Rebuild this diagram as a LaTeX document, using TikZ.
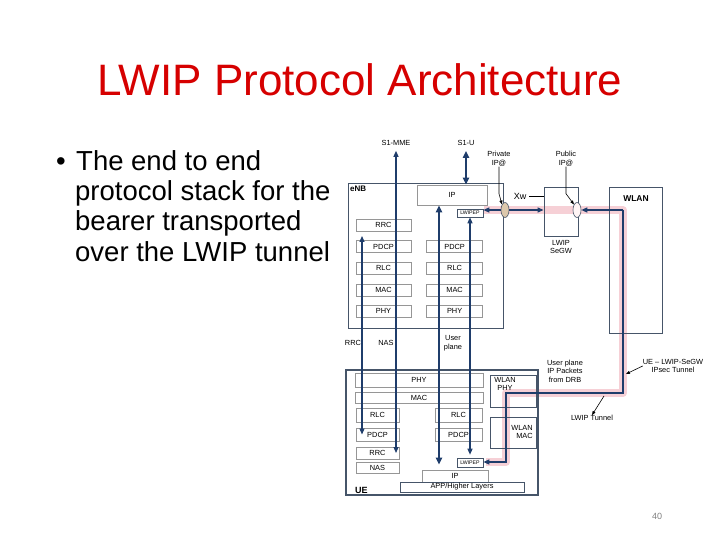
\documentclass[tikz,border=0pt]{standalone}
\usepackage{fontspec}
\setmainfont{Liberation Sans}
\usetikzlibrary{arrows.meta,positioning,shapes.geometric}

\definecolor{titlered}{RGB}{214,0,0}
\definecolor{navy}{RGB}{31,61,107}
\definecolor{tunnelpink}{RGB}{246,208,214}
\definecolor{boxgray}{RGB}{150,150,150}
\definecolor{framegray}{RGB}{70,85,105}
\definecolor{privtan}{RGB}{220,200,172}

\newcommand\diafont{\fontsize{7.4bp}{8.6bp}\selectfont}
\newcommand\bodyfont{\fontsize{27.5bp}{30bp}\selectfont}

\tikzset{
  lay/.style={draw=boxgray, line width=0.6bp, inner sep=0pt, font=\diafont},
  unitbox/.style={draw=framegray, line width=0.9bp, inner sep=0pt},
  wh/.style 2 args={minimum width=#1bp, minimum height=#2bp},
  endpt/.style={ellipse, draw=framegray, line width=0.6bp, inner sep=0pt, minimum width=8bp, minimum height=15bp},
  flow/.style={draw=navy, line width=1.2bp, {Triangle[length=6bp,width=5bp]}-{Triangle[length=6bp,width=5bp]}},
  flowthick/.style={draw=navy, line width=2.4bp, {Triangle[length=7bp,width=6bp]}-{Triangle[length=7bp,width=6bp]}},
  arr/.style={draw=navy, line width=1.2bp, -{Triangle[length=6bp,width=5bp]}},
  lead/.style={draw=black, line width=0.6bp, -{Triangle[length=4bp,width=3bp]}},
  lbl/.style={font=\diafont, inner sep=0pt, align=center},
}

\begin{document}
\begin{tikzpicture}[x=1bp,y=-1bp]
\useasboundingbox (0,0) rectangle (720,540);

% title and bullet text
\node[anchor=base, text=titlered, font=\fontsize{44bp}{50bp}\selectfont] (title) at (360,96) {LWIP Protocol Architecture};
\node[anchor=base west, inner sep=0pt, font=\bodyfont] (dot) at (56,171) {\textbullet};
\node[anchor=base west, inner sep=0pt, font=\bodyfont] (lineA) at (76,171) {The end to end};
\node[anchor=base west, inner sep=0pt, font=\bodyfont] (lineB) at (75,201) {protocol stack for the};
\node[anchor=base west, inner sep=0pt, font=\bodyfont] (lineC) at (75,231) {bearer transported};
\node[anchor=base west, inner sep=0pt, font=\bodyfont] (lineD) at (75,262) {over the LWIP tunnel};

% tunnel highlight
\coordinate (ta) at (623,210);
\coordinate (tb) at (623,393);
\coordinate (tc) at (506,393);
\coordinate (td) at (506,462);
\draw[tunnelpink, line width=8bp, line join=round] (484,210) -- (ta) -- (tb) -- (tc) -- (td) -- (486,462);

% eNB
\node[unitbox, wh={155}{145}] (enb) at (425.5,255.5) {};
\node[anchor=north west, inner sep=0pt, font=\fontsize{8bp}{9bp}\selectfont\bfseries] (enblbl) at (350,186) {eNB};
\node[lay, wh={70}{20}] (eip) at (452,195) {IP};
\node[lay, draw=framegray, wh={26}{8}, font=\fontsize{5.2bp}{6bp}\selectfont] (elwipep) at (470,213) {LWIPEP};
\node[lay, wh={55}{12}] (erc) at (383.5,225) {RRC};
\node[lay, wh={55}{12}, below=9bp of erc] (epl) {PDCP};
\node[lay, wh={55}{12}, below=9bp of epl] (erl) {RLC};
\node[lay, wh={55}{12}, below=9bp of erl] (eml) {MAC};
\node[lay, wh={55}{12}, below=9bp of eml] (ephl) {PHY};
\node[lay, wh={56}{12}, right=15bp of epl] (epr) {PDCP};
\node[lay, wh={56}{12}, below=9bp of epr] (err) {RLC};
\node[lay, wh={56}{12}, below=9bp of err] (emr) {MAC};
\node[lay, wh={56}{12}, below=9bp of emr] (ephr) {PHY};

% gateway and WLAN
\node[endpt, fill=privtan] (privip) at (505,210) {};
\node[unitbox, wh={34}{49}] (segw) at (561,211.5) {};
\node[endpt, fill=pink!15] (pubip) at (577,210) {};
\node[unitbox, wh={53}{146}] (wlan) at (635.5,260) {};
\node[lbl, font=\fontsize{8.5bp}{9bp}\selectfont\bfseries] (wlanlbl) at (636,199) {WLAN};

% UE
\node[unitbox, line width=1.2bp, wh={192}{125}] (ue) at (442,432.5) {};
\node[anchor=south west, inner sep=0pt, font=\fontsize{9bp}{10bp}\selectfont\bfseries] (uelbl) at (355,494) {UE};
\node[lay, wh={128}{14}] (uphy) at (419,380) {PHY};
\node[lay, wh={128}{11}] (umac) at (419,397.5) {MAC};
\node[lay, wh={43}{14}] (urll) at (377.5,415) {RLC};
\node[lay, wh={47}{14}] (urlr) at (458.5,415) {RLC};
\node[lay, wh={43}{13}] (updl) at (377.5,434.5) {PDCP};
\node[lay, wh={47}{13}] (updr) at (458.5,434.5) {PDCP};
\node[lay, wh={43}{12}] (urrc) at (377.5,453) {RRC};
\node[lay, wh={43}{11}] (unas) at (377.5,467.5) {NAS};
\node[lay, draw=framegray, wh={26}{9}, font=\fontsize{5.2bp}{6bp}\selectfont] (ulwipep) at (470,462.5) {LWIPEP};
\node[lay, wh={66}{12}] (uip) at (455,476) {IP};
\node[lay, draw=framegray, wh={124}{10}] (uapp) at (462,487) {APP/Higher Layers};
\node[lay, draw=framegray, wh={46}{32}] (uwphy) at (513,391) {};
\node[lay, draw=framegray, wh={46}{31}] (uwmac) at (513,432.5) {};
\node[lbl] (uwphylbl) at (505,384) {WLAN\\PHY};
\node[lbl, align=right] (uwmaclbl) at (522,432) {WLAN\\MAC};

% labels
\node[lbl] (mmelbl) at (396,143) {S1-MME};
\node[lbl] (s1ulbl) at (466,143) {S1-U};
\node[lbl] (privlbl) at (499,159) {Private\\IP@};
\node[lbl] (publbl) at (566,159) {Public\\IP@};
\node[lbl, font=\fontsize{9bp}{10bp}\selectfont] (xwlbl) at (520,196) {Xw};
\node[lbl] (seglbl) at (561,247) {LWIP\\SeGW};
\node[lbl] (rrclbl) at (353,343) {RRC};
\node[lbl] (naslbl) at (386,343) {NAS};
\node[lbl] (uplbl) at (453,343) {User\\plane};
\node[lbl] (drblbl) at (565,371) {User plane\\IP Packets\\from DRB};
\node[lbl] (ipseclbl) at (673,366) {UE -- LWIP-SeGW\\IPsec Tunnel};
\node[lbl] (tunlbl) at (592,418) {LWIP Tunnel};
\node[text=gray, font=\fontsize{9bp}{10bp}\selectfont] (pagenum) at (657,516) {40};

% bearer paths eNB - UE
\coordinate (c1) at (362,236);
\coordinate (c3) at (439,300);
\draw[flow] (c1) -- (c1 |- updl.center);
\draw[flow, shorten <=5bp] (mmelbl.south) -- (mmelbl.south |- urrc.center);
\draw[flowthick, shorten >=5bp] (eip.south -| c3) -- (uip.north -| c3);
\draw[flow, shorten >=3bp] (elwipep.south) -- (elwipep.south |- ulwipep.north);
\draw[flowthick, shorten <=5bp] (s1ulbl.south) -- (s1ulbl.south |- eip.north);

% Xw and tunnel
\draw[arr] (privip.west) -- (privip.west -| elwipep.east);
\draw[arr] (privip.east) -- (privip.east -| segw.west);
\draw[arr] (ta) -- (ta -| pubip.east);
\draw[arr] (ta) -- (tb) -- (tc) -- (td) -- (td -| ulwipep.east);
\draw[line width=0.6bp, shorten <=3bp] (xwlbl.east) -- (xwlbl.east -| segw.west);

% leaders
\coordinate (ipsecpt) at (626,374);
\coordinate (tunpt) at (604,396);
\draw[lead] (privlbl.south) -- ++(0,27) -- (privip.north west);
\draw[lead] (publbl.south) -- ++(0,27) -- (pubip.north west);
\draw[lead] (ipseclbl.west) -- (ipsecpt);
\draw[lead] (tunpt) -- (tunlbl.north);
\end{tikzpicture}
\end{document}
